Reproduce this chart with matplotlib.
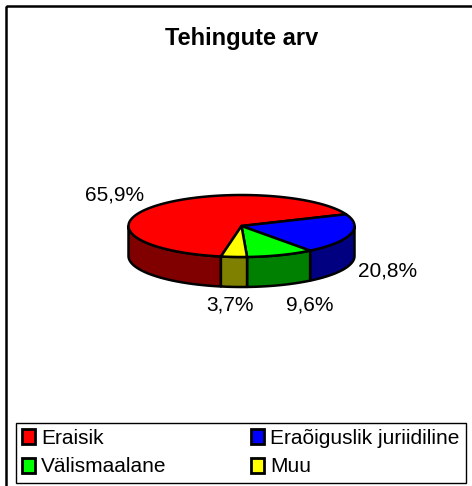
import numpy as np
import matplotlib
matplotlib.use('Agg')
import matplotlib.pyplot as plt
from matplotlib.patches import Polygon, Rectangle, Patch

# ---- data ----
categories = ['Eraisik', 'Eraõiguslik juriidiline', 'Välismaalane', 'Muu']
shares = [65.9, 20.8, 9.6, 3.7]
labels = ['65,9%', '20,8%', '9,6%', '3,7%']
top_colors = ['#FF0000', '#0000FF', '#00FF00', '#FFFF00']
side_colors = ['#800000', '#000080', '#008000', '#808000']
title = 'Tehingute arv'

plt.rcParams['font.family'] = ['Liberation Sans', 'DejaVu Sans']

W, H = 472, 486
fig = plt.figure(figsize=(W / 100, H / 100), dpi=100)
ax = fig.add_axes([0, 0, 1, 1])
ax.set_xlim(0, W)
ax.set_ylim(H, 0)
ax.axis('off')

# ---- 3D pie geometry (layout) ----
cx, cy, a, b, depth = 241.5, 226.0, 113.0, 31.0, 30.0
start = 259.5  # degrees, slices go clockwise
lw = 1.8


def pts(thetas, dz=0.0):
    t = np.radians(thetas)
    return np.column_stack([cx + a * np.cos(t), cy - b * np.sin(t) + dz])


total = sum(shares)
bounds = []
cur = start
for s in shares:
    nxt = cur - s / total * 360.0
    bounds.append((nxt, cur))
    cur = nxt

# side walls (front half only)
for (lo, hi), sc in zip(bounds, side_colors):
    for k in (-1, 0, 1):
        f_lo, f_hi = -180 + 360 * k, 0 + 360 * k
        v_lo, v_hi = max(lo, f_lo), min(hi, f_hi)
        if v_hi > v_lo:
            th = np.linspace(v_lo, v_hi, 80)
            top = pts(th)
            bot = pts(th[::-1], depth)
            poly = Polygon(np.vstack([top, bot]), closed=True, facecolor=sc,
                           edgecolor='black', linewidth=lw, joinstyle='round')
            ax.add_patch(poly)

# top faces
for (lo, hi), tc in zip(bounds, top_colors):
    th = np.linspace(hi, lo, 200)
    arc = pts(th)
    verts = np.vstack([[cx, cy], arc])
    poly = Polygon(verts, closed=True, facecolor=tc, edgecolor='black',
                   linewidth=lw, joinstyle='round')
    ax.add_patch(poly)

# data labels (layout positions)
label_pos = [(114.5, 200.7), (387.3, 276.7), (310.0, 310.7), (230.0, 310.7)]
for txt, (x, y) in zip(labels, label_pos):
    ax.text(x, y, txt, ha='center', va='baseline', fontsize=15, color='black')

# title
ax.text(241.7, 45, title, ha='center', va='baseline', fontsize=17,
        fontweight='bold', color='black')

# outer chart frame
ax.add_patch(Rectangle((6, 6), 490, 500, fill=False, edgecolor='black',
                       linewidth=1.8))

# legend (row-major order in two columns)
handles = [Patch(facecolor=c, edgecolor='black', linewidth=2.0) for c in top_colors]
ncol = 2
nrow = int(np.ceil(len(categories) / ncol))
order = [r * ncol + c for c in range(ncol) for r in range(nrow)
         if r * ncol + c < len(categories)]
leg = fig.legend([handles[i] for i in order], [categories[i] for i in order],
                 ncol=ncol, mode='expand', loc='lower left',
                 bbox_to_anchor=(15.7 / W, 3.3 / H, 450.3 / W, 67 / H),
                 borderaxespad=0, fontsize=15, handlelength=0.62,
                 handleheight=0.75, handletextpad=0.3, borderpad=0.3,
                 labelspacing=0.46, frameon=True, fancybox=False,
                 edgecolor='black', framealpha=1)
leg.get_frame().set_linewidth(1.0)

fig.savefig('out.png', dpi=100)
